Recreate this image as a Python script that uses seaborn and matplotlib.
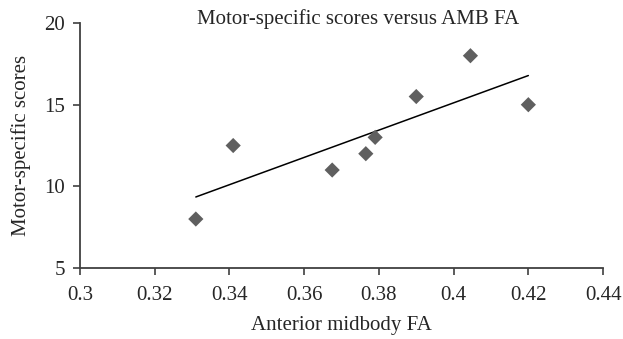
import numpy as np
import pandas as pd
import matplotlib
matplotlib.use("Agg")
import matplotlib.pyplot as plt
import seaborn as sns

# values
amb_fa = [0.331, 0.341, 0.3675, 0.3765, 0.379, 0.390, 0.4045, 0.420]
motor_scores = [8, 12.5, 11, 12, 13, 15.5, 18, 15]
x_ticks = [0.3, 0.32, 0.34, 0.36, 0.38, 0.4, 0.42, 0.44]
x_tick_labels = ["0.3", "0.32", "0.34", "0.36", "0.38", "0.4", "0.42", "0.44"]
y_ticks = [5, 10, 15, 20]

df = pd.DataFrame({"fa": amb_fa, "score": motor_scores})

sns.set_style("ticks")
plt.rcParams["font.family"] = ["Liberation Serif", "DejaVu Serif"]

fig = plt.figure(figsize=(6.23, 3.39), dpi=100)
ax = fig.add_axes([0.1284, 0.2094, 0.8396, 0.7226])

sns.scatterplot(data=df, x="fa", y="score", marker="D", s=60, color="#5f5f5f",
                edgecolor="none", ax=ax, zorder=3)

# linear trend line over the data range
slope, icpt = np.polyfit(df["fa"], df["score"], 1)
xs = np.array([df["fa"].min(), df["fa"].max()])
sns.lineplot(x=xs, y=slope * xs + icpt, color="black", linewidth=1.1, ax=ax)

ax.set_xlim(0.3, 0.44)
ax.set_ylim(5, 20)
ax.set_xticks(x_ticks)
ax.set_xticklabels(x_tick_labels)
ax.set_yticks(y_ticks)
ax.tick_params(labelsize=15, length=5, width=1.2, color="#404040", pad=6)
ax.tick_params(axis="x", pad=8)
for s in ["left", "bottom"]:
    ax.spines[s].set_color("#404040")
    ax.spines[s].set_linewidth(1.3)
sns.despine(ax=ax)

ax.set_xlabel("Anterior midbody FA", fontsize=15, labelpad=8)
ax.set_ylabel("Motor-specific scores", fontsize=15, labelpad=9)
fig.text(0.575, 0.944, "Motor-specific scores versus AMB FA", fontsize=15,
         ha="center", va="center")

fig.savefig("out.png", dpi=100)
